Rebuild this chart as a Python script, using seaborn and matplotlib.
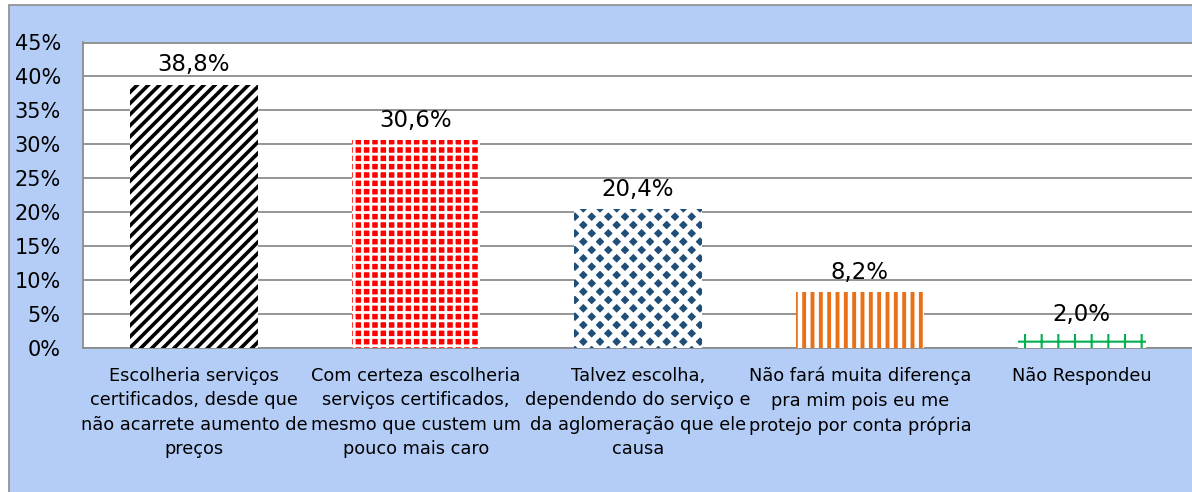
import matplotlib
matplotlib.use("Agg")
import matplotlib.pyplot as plt
import matplotlib.patches as mpatches
import seaborn as sns
import pandas as pd

categories = [
    "Escolheria serviços\ncertificados, desde que\nnão acarrete aumento de\npreços",
    "Com certeza escolheria\nserviços certificados,\nmesmo que custem um\npouco mais caro",
    "Talvez escolha,\ndependendo do serviço e\nda aglomeração que ele\ncausa",
    "Não fará muita diferença\npra mim pois eu me\nprotejo por conta própria",
    "Não Respondeu",
]
values = [0.388, 0.306, 0.204, 0.082, 0.020]
value_labels = ["38,8%", "30,6%", "20,4%", "8,2%", "2,0%"]
y_ticks = [0, 0.05, 0.10, 0.15, 0.20, 0.25, 0.30, 0.35, 0.40, 0.45]
y_tick_labels = ["0%", "5%", "10%", "15%", "20%", "25%", "30%", "35%", "40%", "45%"]

face_colors = ["#FFFFFF", "#FF0000", "#1F4E79", "#FFFFFF", "#FFFFFF"]
hatch_colors = ["#000000", "#FFFFFF", "#FFFFFF", "#E97016", "#00B050"]
hatches = ["///", "++", "xx", "||", "+"]
hatch_widths = [2.6, 2.0, 4.0, 2.8, 1.5]

BLUE_BG = "#B4CDF7"
GRID = "#8C8C8C"

sns.set_theme(style="white")
plt.rcParams["font.family"] = ["DejaVu Sans"]

df = pd.DataFrame({"cat": categories, "val": values})

fig = plt.figure(figsize=(11.92, 4.92), dpi=100)
fig.patch.set_facecolor("white")
# light blue chart area with grey frame
fig.patches.append(mpatches.Rectangle(
    (9 / 1192, -0.02), 1.2, 1 - 5 / 492 + 0.02,
    transform=fig.transFigure, facecolor=BLUE_BG, edgecolor="#8C8C8C",
    linewidth=1.2, zorder=-10))

ax = fig.add_axes([83 / 1192, 1 - 347.5 / 492, 1.0 - 83 / 1192 + 0.01, (347.5 - 42.5) / 492])
ax.set_facecolor("white")

sns.barplot(data=df, x="cat", y="val", hue="cat", palette=face_colors,
            width=0.577, legend=False, ax=ax, zorder=3, saturation=1)

for p, hc, h, lw in zip(ax.patches, hatch_colors, hatches, hatch_widths):
    p.set_edgecolor(hc)
    p.set_hatch(h)
    p.set_linewidth(0)
    if hasattr(p, "set_hatch_linewidth"):
        p.set_hatch_linewidth(lw)

for cont, lab in zip(ax.containers, value_labels):
    ax.bar_label(cont, labels=[lab], padding=6, fontsize=16.5, color="#000000")

ax.set_ylim(0, 0.45)
ax.set_xlim(-0.5, 4.5 + 0.05)
ax.set_yticks(y_ticks)
ax.set_yticklabels(y_tick_labels, fontsize=15, color="#000000")
ax.tick_params(axis="y", length=0, pad=16)
ax.tick_params(axis="x", length=0, pad=14)
ax.set_xticks(range(len(categories)))
ax.set_xticklabels(categories, fontsize=12.8, color="#000000", linespacing=1.45,
                   va="top")
ax.set_xlabel("")
ax.set_ylabel("")
ax.grid(axis="y", color=GRID, linewidth=1.3, zorder=0)
ax.set_axisbelow(True)
for side in ["left", "bottom", "top"]:
    ax.spines[side].set_color(GRID)
    ax.spines[side].set_linewidth(1.3)
ax.spines["right"].set_visible(False)

fig.savefig("out.png", dpi=100, facecolor=fig.get_facecolor())
